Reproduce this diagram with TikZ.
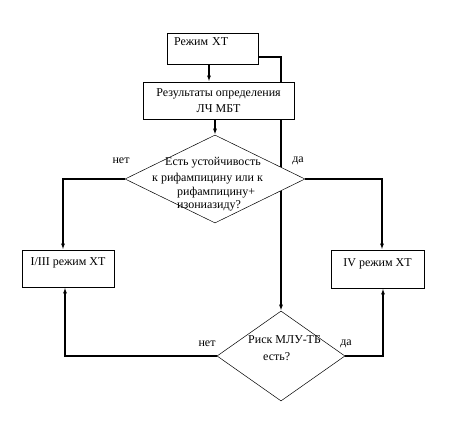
\documentclass[tikz,border=0pt]{standalone}
\usepackage{fontspec}
\setmainfont{Liberation Serif}
\usetikzlibrary{arrows.meta, positioning, shapes.geometric, backgrounds}

\tikzset{
  box/.style={draw, fill=white, line width=0.8pt, inner sep=0pt},
  topbox/.style={box, text height=8pt, text depth=13pt},
  decision/.style={draw, diamond, fill=white, line width=0.5pt, inner sep=0pt},
  flow/.style={line width=1.2pt, -{Latex[length=6pt,width=4pt]}},
}

\begin{document}
\begin{tikzpicture}[x=1pt, y=-1pt, font=\fontsize{12}{14}\selectfont]
  \useasboundingbox (0,0) rectangle (467,433);
  % boxes
  \node[topbox, minimum width=91pt, minimum height=31pt, text width=77pt, align=left] (start) at (212.5,48.5) {Режим ХТ};
  \node[box, minimum width=151pt, minimum height=37pt, align=center, font=\fontsize{12}{16}\selectfont] (results) at (218.5,100.5) {Результаты определения\\ЛЧ МБТ};
  \node[topbox, minimum width=92pt, minimum height=37pt] (regA) at (68,268.5) {I/III режим ХТ};
  \node[topbox, minimum width=93pt, minimum height=38pt] (regB) at (377.5,269) {IV режим ХТ};
  % decisions
  \node[decision, minimum width=180pt, minimum height=88pt] (resist) at (215,179) {};
  \node[align=left, anchor=north west, inner sep=0pt, font=\fontsize{12}{13.5}\selectfont] (resisttext) at (152,157)
    {\hspace*{13pt}Есть устойчивость\\[3pt]к рифампицину или к\\\hspace*{25pt}рифампицину+\\\hspace*{25pt}изониазиду?};
  \node[decision, minimum width=128pt, minimum height=90pt] (risk) at (281,356) {};
  \node[align=left, anchor=north west, inner sep=0pt] (risktext) at (248,335) {Риск МЛУ-ТБ\\[3pt]\hspace*{15pt}есть?};
  % answers
  \node (resistno) at (121,161) {нет};
  \node (resistyes) at (298,161) {да};
  \node (riskno) at (207,344) {нет};
  \node (riskyes) at (346,344) {да};
  % connectors
  \begin{scope}[on background layer]
    \draw[flow] ([yshift=-8.5pt]start.east) -| (risk.north);
  \end{scope}
  \draw[flow] ([xshift=-3.5pt]start.south) -- ([xshift=-3.5pt]start.south |- results.north);
  \draw[flow] (resist.north |- results.south) -- (resist.north);
  \draw[flow] (resist.west) -| ([xshift=-5pt]regA.north);
  \draw[flow] (resist.east) -| ([xshift=4.5pt]regB.north);
  \draw[flow] (risk.west) -| ([xshift=-3pt]regA.south);
  \draw[flow] (risk.east) -| ([xshift=5.5pt]regB.south);
\end{tikzpicture}
\end{document}
